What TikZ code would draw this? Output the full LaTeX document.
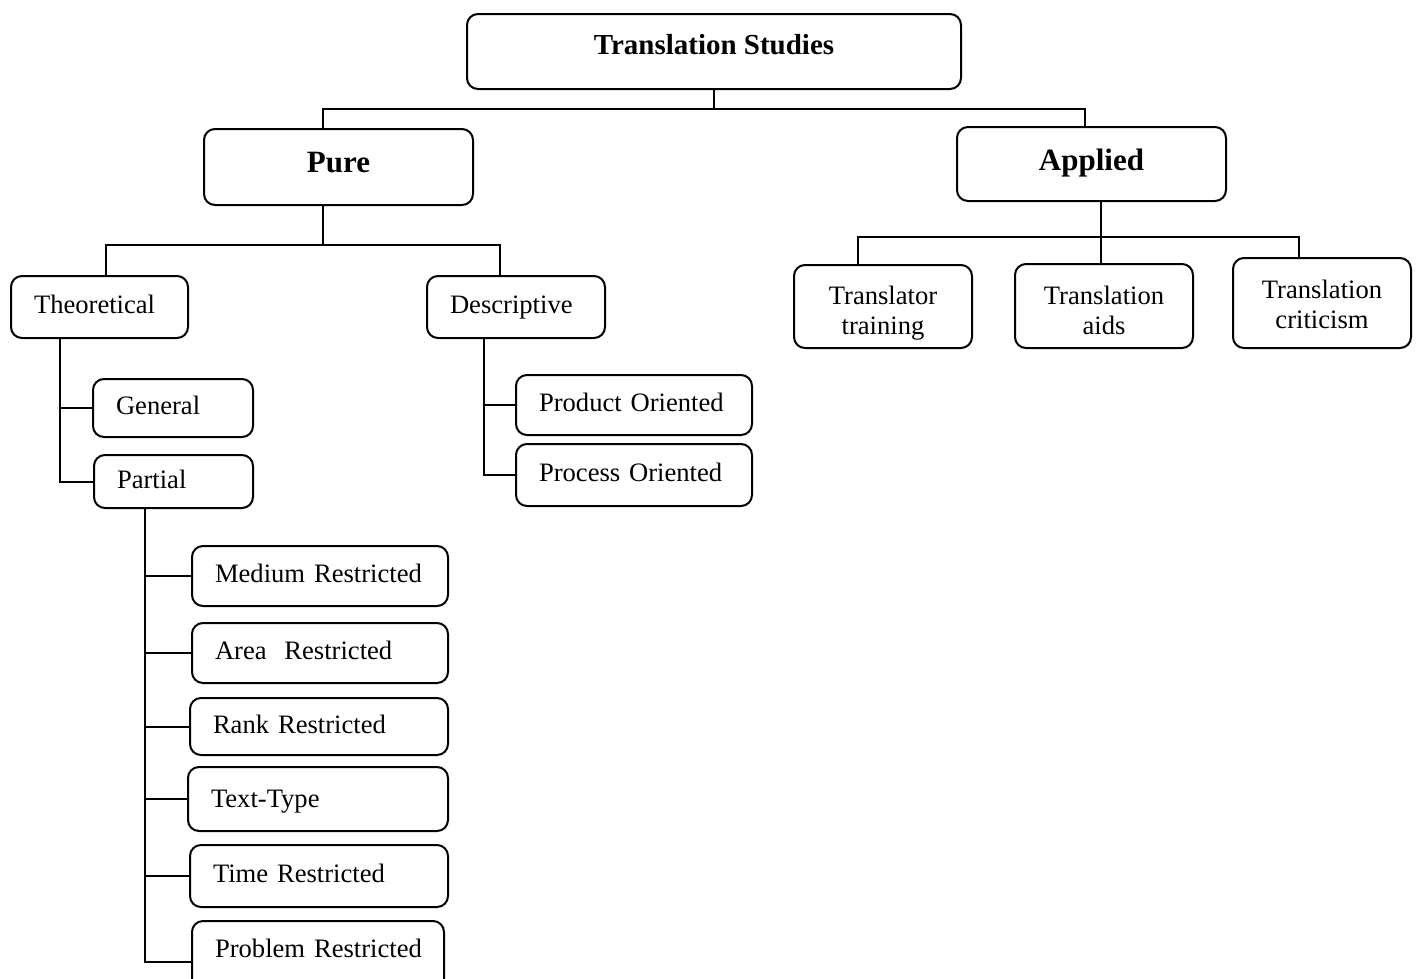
\documentclass[tikz,border=0pt]{standalone}
\usepackage{fontspec}
\setmainfont{Liberation Serif}

\begin{document}
\begin{tikzpicture}[x=1pt,y=-1pt,line width=2pt,
  box/.style={draw,rounded corners=11pt,inner sep=0pt,font=\fontsize{26.6}{28}\selectfont},
  leaf/.style={box,align=left,inner xsep=23pt,text height=20pt,text depth=6.7pt},
  head/.style={box,font=\fontsize{31}{34}\selectfont\bfseries,text height=22pt,text depth=12pt},
  twoline/.style={box,align=center,font=\fontsize{26.6}{30}\selectfont,text depth=5pt}]

  \useasboundingbox (0,0) rectangle (1416,978);

  % top levels
  \node[head, font=\fontsize{29}{32}\selectfont\bfseries, text height=20pt, text depth=14pt,
        minimum width=494pt, minimum height=75pt] (ts) at (714,51.5) {Translation Studies};
  \node[head, minimum width=269pt, minimum height=76pt] (pure) at (338.5,167) {Pure};
  \node[head, text depth=10pt, minimum width=269pt, minimum height=74pt] (applied) at (1091.5,164) {Applied};

  % pure side
  \node[leaf, text width=131pt, minimum height=62pt] (theo) at (99.5,307) {Theoretical};
  \node[leaf, text width=132pt, minimum height=62pt] (desc) at (516,307) {Descriptive};
  \node[leaf, text width=114pt, minimum height=58pt] (gen) at (173,408) {General};
  \node[leaf, text width=113pt, minimum height=53pt] (par) at (173.5,481.5) {Partial};
  \node[leaf, text width=190pt, minimum height=60pt] (prod) at (634,405) {Product Oriented};
  \node[leaf, text width=190pt, minimum height=62pt] (proc) at (634,475) {Process Oriented};

  \node[leaf, text width=210pt, minimum height=60pt] (med) at (320,576) {Medium Restricted};
  \node[leaf, text width=210pt, minimum height=60pt] (area) at (320,653) {Area\ \ Restricted};
  \node[leaf, text width=212pt, minimum height=57pt] (rank) at (319,726.5) {Rank Restricted};
  \node[leaf, text width=214pt, minimum height=64pt, text depth=2.7pt] (ttype) at (318,799) {Text-Type};
  \node[leaf, text width=212pt, minimum height=62pt] (time) at (319,876) {Time Restricted};
  \node[leaf, text width=206pt, minimum height=82pt, text depth=28.4pt] (prob) at (318,962) {\mbox{Problem Restricted}};

  % applied side
  \node[twoline, text height=60pt, minimum width=178pt, minimum height=83pt] (train) at (883,306.5) {Translator\\training};
  \node[twoline, text height=61pt, minimum width=178pt, minimum height=84pt] (aids) at (1104,306) {Translation\\aids};
  \node[twoline, text height=55pt, minimum width=178pt, minimum height=90pt] (crit) at (1322,303) {Translation\\criticism};

  \coordinate (tjunc) at (714,109);
  \coordinate (pjunc) at (323,245);
  \coordinate (ajunc) at (1101,237);

  \draw (ts.south) -- (tjunc);
  \draw (pure.north -| 323,0) |- (tjunc) -| (applied.north -| 1085,0);

  \draw (pure.south -| 323,0) -- (pjunc);
  \draw (theo.north -| 106,0) |- (pjunc) -| (desc.north -| 500,0);

  \draw (applied.south -| 1101,0) -- (aids.north -| 1101,0);
  \draw (train.north -| 858,0) |- (ajunc) -| (crit.north -| 1299,0);

  \draw (theo.south -| 60,0) |- (gen.west);
  \draw (theo.south -| 60,0) |- (par.west);
  \draw (desc.south -| 484,0) |- (prod.west);
  \draw (desc.south -| 484,0) |- (proc.west);

  \foreach \n in {med,area,rank,ttype,time,prob}
    \draw (par.south -| 145,0) |- (\n.west);

\end{tikzpicture}
\end{document}
